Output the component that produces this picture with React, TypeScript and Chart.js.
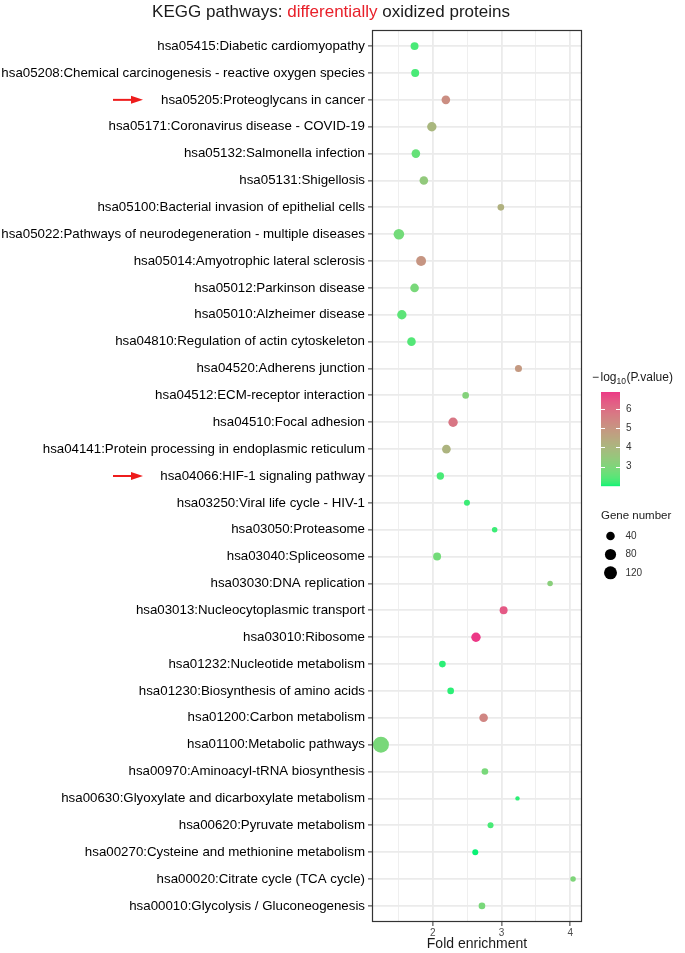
import React, { useEffect, useRef } from 'react';
import { Chart, registerables } from 'chart.js';

Chart.register(...registerables);

// ---------- data ----------
const pathways: string[] = [
  'hsa05415:Diabetic cardiomyopathy',
  'hsa05208:Chemical carcinogenesis - reactive oxygen species',
  'hsa05205:Proteoglycans in cancer',
  'hsa05171:Coronavirus disease - COVID-19',
  'hsa05132:Salmonella infection',
  'hsa05131:Shigellosis',
  'hsa05100:Bacterial invasion of epithelial cells',
  'hsa05022:Pathways of neurodegeneration - multiple diseases',
  'hsa05014:Amyotrophic lateral sclerosis',
  'hsa05012:Parkinson disease',
  'hsa05010:Alzheimer disease',
  'hsa04810:Regulation of actin cytoskeleton',
  'hsa04520:Adherens junction',
  'hsa04512:ECM-receptor interaction',
  'hsa04510:Focal adhesion',
  'hsa04141:Protein processing in endoplasmic reticulum',
  'hsa04066:HIF-1 signaling pathway',
  'hsa03250:Viral life cycle - HIV-1',
  'hsa03050:Proteasome',
  'hsa03040:Spliceosome',
  'hsa03030:DNA replication',
  'hsa03013:Nucleocytoplasmic transport',
  'hsa03010:Ribosome',
  'hsa01232:Nucleotide metabolism',
  'hsa01230:Biosynthesis of amino acids',
  'hsa01200:Carbon metabolism',
  'hsa01100:Metabolic pathways',
  'hsa00970:Aminoacyl-tRNA biosynthesis',
  'hsa00630:Glyoxylate and dicarboxylate metabolism',
  'hsa00620:Pyruvate metabolism',
  'hsa00270:Cysteine and methionine metabolism',
  'hsa00020:Citrate cycle (TCA cycle)',
  'hsa00010:Glycolysis / Gluconeogenesis',
];

const foldEnrichment: number[] = [
  1.735, 1.744, 2.19, 1.986, 1.754, 1.87, 2.99, 1.507, 1.83, 1.735, 1.55,
  1.69, 3.246, 2.478, 2.295, 2.198, 2.11, 2.497, 2.9, 2.063, 3.706, 3.03,
  2.628, 2.14, 2.26, 2.739, 1.246, 2.758, 3.232, 2.84, 2.618, 4.04, 2.715,
];

const negLog10P: number[] = [
  2.3, 2.3, 5.2, 4.0, 2.6, 3.4, 4.2, 2.8, 5.0, 2.9, 2.5,
  2.4, 4.9, 3.1, 5.8, 4.1, 2.3, 2.2, 2.2, 2.8, 3.2, 6.4,
  6.88, 2.1, 2.1, 5.4, 2.9, 2.9, 2.1, 2.3, 2.0, 3.0, 2.9,
];

const geneNumber: number[] = [
  40, 40, 48, 59, 48, 48, 28, 80, 69, 48, 59,
  48, 31, 28, 59, 48, 34, 24, 22, 40, 22, 40,
  59, 28, 28, 48, 232, 28, 20, 24, 24, 22, 28,
];

const highlighted: string[] = [
  'hsa05205:Proteoglycans in cancer',
  'hsa04066:HIF-1 signaling pathway',
];

const xMajorTicks: number[] = [2, 3, 4];
const xMinorTicks: number[] = [1.5, 2.5, 3.5];
const colorTicks: number[] = [3, 4, 5, 6];
const sizeBreaks: number[] = [40, 80, 120];

// ---------- scales for colour & size ----------
const LOW_COLOR = '#08F275';
const HIGH_COLOR = '#EC3886';
const pMin = Math.min(...negLog10P);
const pMax = Math.max(...negLog10P);
const gMin = Math.min(...geneNumber);
const gMax = Math.max(...geneNumber);
const R_MIN = 2.2;
const R_MAX = 8;

function radiusFor(n: number): number {
  const t = Math.max(0, (n - gMin) / (gMax - gMin));
  return R_MIN + (R_MAX - R_MIN) * Math.sqrt(t);
}

const lin = (c: number) => {
  c /= 255;
  return c <= 0.04045 ? c / 12.92 : Math.pow((c + 0.055) / 1.055, 2.4);
};
const unlin = (c: number) => {
  const v = c <= 0.0031308 ? 12.92 * c : 1.055 * Math.pow(c, 1 / 2.4) - 0.055;
  return Math.round(Math.max(0, Math.min(1, v)) * 255);
};
const XN = 0.95047, YN = 1, ZN = 1.08883;
function toLab(hex: string): number[] {
  const r = lin(parseInt(hex.slice(1, 3), 16));
  const g = lin(parseInt(hex.slice(3, 5), 16));
  const b = lin(parseInt(hex.slice(5, 7), 16));
  const X = 0.4124 * r + 0.3576 * g + 0.1805 * b;
  const Y = 0.2126 * r + 0.7152 * g + 0.0722 * b;
  const Z = 0.0193 * r + 0.1192 * g + 0.9505 * b;
  const f = (t: number) => (t > 0.008856 ? Math.cbrt(t) : 7.787 * t + 16 / 116);
  const fx = f(X / XN), fy = f(Y / YN), fz = f(Z / ZN);
  return [116 * fy - 16, 500 * (fx - fy), 200 * (fy - fz)];
}
function fromLab(L: number, a: number, bb: number): string {
  const fy = (L + 16) / 116;
  const fx = fy + a / 500;
  const fz = fy - bb / 200;
  const finv = (t: number) => (t * t * t > 0.008856 ? t * t * t : (t - 16 / 116) / 7.787);
  const X = XN * finv(fx), Y = YN * finv(fy), Z = ZN * finv(fz);
  const r = 3.2406 * X - 1.5372 * Y - 0.4986 * Z;
  const g = -0.9689 * X + 1.8758 * Y + 0.0415 * Z;
  const b = 0.0557 * X - 0.204 * Y + 1.057 * Z;
  return `rgb(${unlin(r)},${unlin(g)},${unlin(b)})`;
}
const labLow = toLab(LOW_COLOR);
const labHigh = toLab(HIGH_COLOR);
function colorFor(v: number): string {
  const t = Math.max(0, Math.min(1, (v - pMin) / (pMax - pMin)));
  return fromLab(
    labLow[0] + (labHigh[0] - labLow[0]) * t,
    labLow[1] + (labHigh[1] - labLow[1]) * t,
    labLow[2] + (labHigh[2] - labLow[2]) * t,
  );
}

const FONT = "'Liberation Sans', Arial, Helvetica, sans-serif";

// ---------- layout constants ----------
const W = 685;
const H = 953;
const PLOT_LEFT = 372;
const PLOT_RIGHT = 582;
const PLOT_TOP = 30;
const PLOT_BOTTOM = 922;

const overlayPlugin = {
  id: 'overlay',
  afterDraw(chart: any) {
    const ctx: CanvasRenderingContext2D = chart.ctx;
    const area = chart.chartArea;
    const yScale = chart.scales.y;
    ctx.save();

    // panel border
    ctx.strokeStyle = '#333333';
    ctx.lineWidth = 1.2;
    ctx.strokeRect(area.left + 0.5, area.top + 0.5, area.right - area.left - 1, area.bottom - area.top - 1);

    // title
    ctx.font = `17px ${FONT}`;
    ctx.textBaseline = 'middle';
    ctx.textAlign = 'left';
    const parts: [string, string][] = [
      ['KEGG pathways: ', '#1a1a1a'],
      ['differentially', '#E8202A'],
      [' oxidized proteins', '#1a1a1a'],
    ];
    const total = parts.reduce((s, p) => s + ctx.measureText(p[0]).width, 0);
    let tx = 331 - total / 2;
    for (const [txt, col] of parts) {
      ctx.fillStyle = col;
      ctx.fillText(txt, tx, 12);
      tx += ctx.measureText(txt).width;
    }

    // red arrows
    ctx.fillStyle = '#EE1C1C';
    ctx.strokeStyle = '#EE1C1C';
    for (const name of highlighted) {
      const idx = pathways.indexOf(name);
      if (idx < 0) continue;
      const y = yScale.getPixelForValue(idx);
      ctx.lineWidth = 2;
      ctx.beginPath();
      ctx.moveTo(113, y);
      ctx.lineTo(134, y);
      ctx.stroke();
      ctx.beginPath();
      ctx.moveTo(143, y);
      ctx.lineTo(131, y - 4);
      ctx.lineTo(131, y + 4);
      ctx.closePath();
      ctx.fill();
    }

    // colour legend title
    ctx.fillStyle = '#1a1a1a';
    ctx.textBaseline = 'middle';
    ctx.font = `12px ${FONT}`;
    let lx = 592;
    ctx.fillText('\u2212', lx, 378);
    lx += ctx.measureText('\u2212').width + 1.5;
    ctx.fillText('log', lx, 378);
    lx += ctx.measureText('log').width;
    ctx.font = `8.5px ${FONT}`;
    ctx.fillText('10', lx, 381.5);
    lx += ctx.measureText('10').width + 0.5;
    ctx.font = `12px ${FONT}`;
    ctx.fillText('(P.value)', lx, 378);

    // colour bar
    const cbLeft = 601, cbRight = 620, cbTop = 392, cbBottom = 486;
    const cbH = cbBottom - cbTop;
    for (let i = 0; i < cbH; i++) {
      const v = pMax - ((i + 0.5) / cbH) * (pMax - pMin);
      ctx.fillStyle = colorFor(v);
      ctx.fillRect(cbLeft, cbTop + i, cbRight - cbLeft, 1.2);
    }
    ctx.strokeStyle = '#ffffff';
    ctx.lineWidth = 1;
    ctx.font = `10px ${FONT}`;
    for (const t of colorTicks) {
      const y = cbBottom - ((t - pMin) / (pMax - pMin)) * cbH;
      const yy = Math.round(y) + 0.5;
      ctx.beginPath();
      ctx.moveTo(cbLeft, yy);
      ctx.lineTo(cbLeft + 4, yy);
      ctx.moveTo(cbRight - 4, yy);
      ctx.lineTo(cbRight, yy);
      ctx.stroke();
      ctx.fillStyle = '#333333';
      ctx.fillText(String(t), 626, y);
    }

    // size legend
    ctx.fillStyle = '#1a1a1a';
    ctx.font = `11.5px ${FONT}`;
    ctx.fillText('Gene number', 601, 515.5);
    const sizeYs = [536, 554.5, 572.8];
    sizeBreaks.forEach((n, i) => {
      ctx.fillStyle = '#000000';
      ctx.beginPath();
      ctx.arc(610.5, sizeYs[i], radiusFor(n) + 0.3, 0, Math.PI * 2);
      ctx.fill();
      ctx.fillStyle = '#333333';
      ctx.font = `10px ${FONT}`;
      ctx.fillText(String(n), 625.5, sizeYs[i]);
    });

    ctx.restore();
  },
};

export default function App() {
  const canvasRef = useRef<HTMLCanvasElement | null>(null);

  useEffect(() => {
    const canvas = canvasRef.current;
    if (!canvas) return;
    const points = pathways.map((_, i) => ({
      x: foldEnrichment[i],
      y: i,
      r: radiusFor(geneNumber[i]),
    }));
    const chart = new Chart(canvas, {
      type: 'bubble',
      data: {
        datasets: [
          {
            data: points,
            backgroundColor: pathways.map((_, i) => colorFor(negLog10P[i])),
            borderWidth: 0,
            hoverBorderWidth: 0,
          } as any,
        ],
      },
      options: {
        responsive: false,
        animation: false,
        events: [],
        devicePixelRatio: 1,
        layout: { padding: { top: PLOT_TOP, right: W - PLOT_RIGHT, left: 0, bottom: 0 } },
        plugins: {
          legend: { display: false },
          tooltip: { enabled: false },
          title: { display: false },
        },
        scales: {
          x: {
            type: 'linear',
            min: 1.116,
            max: 4.17,
            afterBuildTicks: (s: any) => {
              s.ticks = [...xMinorTicks, ...xMajorTicks]
                .sort((a, b) => a - b)
                .map((v) => ({ value: v }));
            },
            afterFit: (s: any) => {
              s.height = H - PLOT_BOTTOM;
            },
            border: { display: false },
            grid: {
              color: (c: any) => (c.tick && xMajorTicks.includes(c.tick.value) ? '#EBEBEB' : '#EFEFEF'),
              lineWidth: (c: any) => (c.tick && xMajorTicks.includes(c.tick.value) ? 1.8 : 1),
              tickColor: (c: any) =>
                c.tick && xMajorTicks.includes(c.tick.value) ? '#333333' : 'rgba(0,0,0,0)',
              tickWidth: 1,
              tickLength: 4,
              drawTicks: true,
            },
            ticks: {
              autoSkip: false,
              maxRotation: 0,
              padding: 1,
              color: '#4D4D4D',
              font: { family: FONT, size: 10 },
              callback: (v: any) => (xMajorTicks.includes(Number(v)) ? String(v) : ''),
            },
            title: {
              display: true,
              text: 'Fold enrichment',
              color: '#1a1a1a',
              font: { family: FONT, size: 14 },
              padding: { top: 0, bottom: 0 },
            },
          },
          y: {
            type: 'linear',
            min: -0.6,
            max: pathways.length - 1 + 0.6,
            reverse: true,
            afterBuildTicks: (s: any) => {
              s.ticks = pathways.map((_, i) => ({ value: i }));
            },
            afterFit: (s: any) => {
              s.width = PLOT_LEFT;
            },
            border: { display: false },
            grid: {
              color: '#EBEBEB',
              lineWidth: 1.8,
              tickColor: '#333333',
              tickWidth: 1,
              tickLength: 4,
            },
            ticks: {
              autoSkip: false,
              padding: 3,
              color: '#000000',
              font: { family: FONT, size: 13.3 },
              callback: (v: any) => pathways[Number(v)] ?? '',
            },
          },
        },
      },
      plugins: [overlayPlugin],
    });
    return () => chart.destroy();
  }, []);

  return (
    <div style={{ position: 'absolute', left: 0, top: 0, width: W, height: H, background: '#ffffff' }}>
      <canvas ref={canvasRef} width={W} height={H} style={{ display: 'block', width: W, height: H }} />
    </div>
  );
}
